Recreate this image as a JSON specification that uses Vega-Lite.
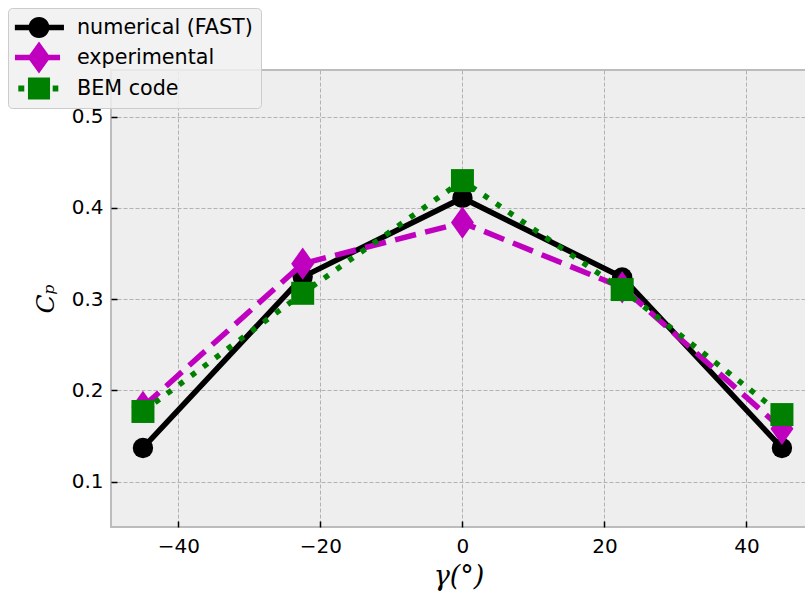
{
  "$schema": "https://vega.github.io/schema/vega-lite/v6.json",
  "width": 695,
  "height": 457,
  "autosize": "none",
  "padding": {"left": 111, "top": 70, "right": 0, "bottom": 69},
  "background": "white",
  "config": {
    "view": {"fill": "#eeeeee", "stroke": "#bcbcbc", "strokeWidth": 2},
    "axis": {
      "grid": true,
      "gridColor": "#b2b2b2",
      "gridDash": [4, 2],
      "gridWidth": 1,
      "domain": false,
      "tickSize": -6,
      "tickColor": "black",
      "tickWidth": 1.5,
      "labelFont": "DejaVu Sans",
      "labelFontSize": 20,
      "labelColor": "black",
      "titleFont": "DejaVu Serif",
      "titleFontStyle": "italic",
      "titleFontWeight": "normal",
      "titleColor": "black"
    }
  },
  "data": {
    "values": [
      {"series": "numerical (FAST)", "gamma": -45, "cp": 0.137},
      {"series": "numerical (FAST)", "gamma": -22.5, "cp": 0.3245},
      {"series": "numerical (FAST)", "gamma": 0, "cp": 0.411},
      {"series": "numerical (FAST)", "gamma": 22.5, "cp": 0.324},
      {"series": "numerical (FAST)", "gamma": 45, "cp": 0.137},
      {"series": "experimental", "gamma": -45, "cp": 0.182},
      {"series": "experimental", "gamma": -22.5, "cp": 0.339},
      {"series": "experimental", "gamma": 0, "cp": 0.384},
      {"series": "experimental", "gamma": 22.5, "cp": 0.313},
      {"series": "experimental", "gamma": 45, "cp": 0.158},
      {"series": "BEM code", "gamma": -45, "cp": 0.177},
      {"series": "BEM code", "gamma": -22.5, "cp": 0.3065},
      {"series": "BEM code", "gamma": 0, "cp": 0.43},
      {"series": "BEM code", "gamma": 22.5, "cp": 0.3106},
      {"series": "BEM code", "gamma": 45, "cp": 0.1736}
    ]
  },
  "encoding": {
    "x": {
      "field": "gamma",
      "type": "quantitative",
      "scale": {"domain": [-49.5, 48.39], "nice": false, "zero": false},
      "axis": {
        "title": "γ(°)",
        "values": [-40, -20, 0, 20, 40],
        "labelPadding": 15,
        "labelExpr": "replace(datum.label, '-', '−')",
        "titleFontSize": 27,
        "titlePadding": 7
      }
    },
    "y": {
      "field": "cp",
      "type": "quantitative",
      "scale": {"domain": [0.0504, 0.5512], "nice": false, "zero": false},
      "axis": {
        "title": "Cₚ",
        "values": [0.1, 0.2, 0.3, 0.4, 0.5],
        "format": ".1f",
        "labelPadding": 14,
        "titleFontSize": 25,
        "titlePadding": 13
      }
    }
  },
  "layer": [
    {
      "transform": [{"filter": "datum.series === 'numerical (FAST)'"}],
      "mark": {
        "type": "line",
        "color": "black",
        "strokeWidth": 5.5,
        "point": {"filled": true, "shape": "circle", "size": 415, "color": "black", "opacity": 1}
      }
    },
    {
      "transform": [{"filter": "datum.series === 'experimental'"}],
      "mark": {
        "type": "line",
        "color": "#bf00bf",
        "strokeWidth": 5.5,
        "strokeDash": [21.5, 9.5],
        "point": {"filled": true, "shape": "M0,-1.4L1,0L0,1.4L-1,0Z", "size": 529, "color": "#bf00bf", "opacity": 1}
      }
    },
    {
      "transform": [{"filter": "datum.series === 'BEM code'"}],
      "mark": {
        "type": "line",
        "color": "green",
        "strokeWidth": 5.5,
        "strokeDash": [5.5, 9.5],
        "point": {"filled": true, "shape": "square", "size": 529, "color": "green", "opacity": 1}
      }
    },
    {
      "mark": {"type": "point", "filled": true, "opacity": 0, "size": 529},
      "encoding": {
        "shape": {
          "field": "series",
          "type": "nominal",
          "scale": {
            "domain": ["numerical (FAST)", "experimental", "BEM code"],
            "range": [
              "M-1.1,-0.24L3.17,-0.24L3.17,0.24L-1.1,0.24Z M1.91,0A0.91,0.91,0,1,1,0.09,0A0.91,0.91,0,1,1,1.91,0Z",
              "M-1.09,-0.24L0.52,-0.24L0.52,0.24L-1.09,0.24Z M1.22,-0.24L2.83,-0.24L2.83,0.24L1.22,0.24Z M1,-1.4L2,0L1,1.4L0,0Z",
              "M-0.8,-0.26L-0.28,-0.26L-0.28,0.26L-0.8,0.26Z M2.19,-0.26L2.68,-0.26L2.68,0.26L2.19,0.26Z M0.04,-0.96L1.96,-0.96L1.96,0.96L0.04,0.96Z"
            ]
          },
          "legend": {
            "orient": "none",
            "legendX": -103,
            "legendY": -62,
            "title": null,
            "padding": 8,
            "symbolSize": 529,
            "symbolStrokeWidth": 0,
            "symbolOpacity": 1,
            "labelFont": "DejaVu Sans",
            "labelFontSize": 20.7,
            "labelColor": "black",
            "labelOffset": 38,
            "labelLimit": 300,
            "rowPadding": 3,
            "fillColor": "rgba(240,240,240,0.85)",
            "strokeColor": "#cccccc",
            "cornerRadius": 4
          }
        },
        "fill": {
          "field": "series",
          "type": "nominal",
          "scale": {
            "domain": ["numerical (FAST)", "experimental", "BEM code"],
            "range": ["black", "#bf00bf", "green"]
          },
          "legend": {
            "orient": "none",
            "legendX": -103,
            "legendY": -62,
            "title": null,
            "padding": 8,
            "symbolSize": 529,
            "symbolStrokeWidth": 0,
            "symbolOpacity": 1,
            "labelFont": "DejaVu Sans",
            "labelFontSize": 20.7,
            "labelColor": "black",
            "labelOffset": 38,
            "labelLimit": 300,
            "rowPadding": 3,
            "fillColor": "rgba(240,240,240,0.85)",
            "strokeColor": "#cccccc",
            "cornerRadius": 4
          }
        }
      }
    }
  ]
}
